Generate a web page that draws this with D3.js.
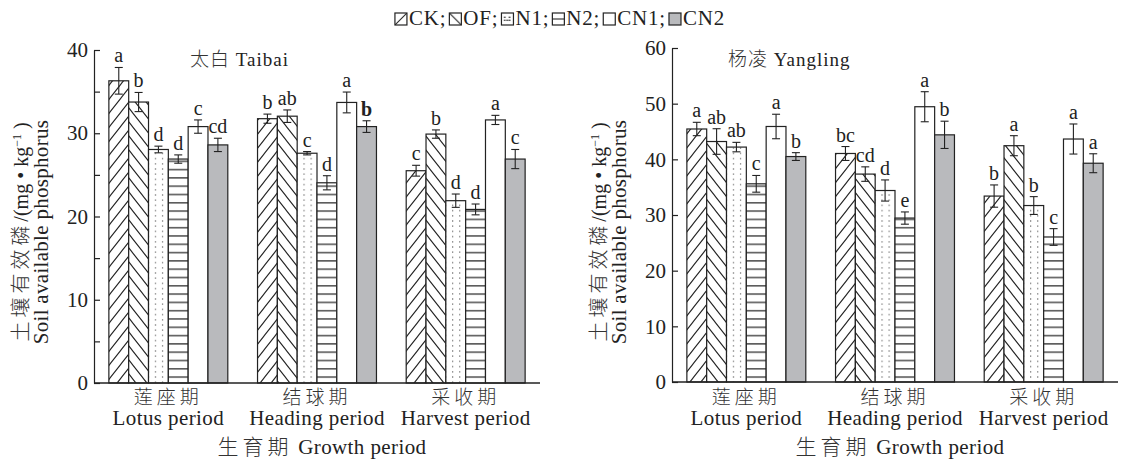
<!DOCTYPE html>
<html>
<head>
<meta charset="utf-8">
<script src="https://cdn.jsdelivr.net/npm/d3@7"></script>
<style>
body { margin: 0; background: #fff; }
svg text { font-family: "Liberation Serif", "Noto Sans CJK SC", serif; fill: #222; }
.cjk { font-weight: 300; fill: #333; }
</style>
</head>
<body>
<div id="chart"></div>
<script>
// categories
var periodsCn = ["莲座期", "结球期", "采收期"];
var periodsEn = ["Lotus period", "Heading period", "Harvest period"];
var treatments = ["CK", "OF", "N1", "N2", "CN1", "CN2"];

// Taibai: one row per treatment, one value per period
var taibaiMean = [
  [36.3, 31.75, 25.5],
  [33.75, 32.05, 29.9],
  [28.05, 27.6, 21.9],
  [26.9, 24.05, 20.85],
  [30.8, 33.7, 31.6],
  [28.6, 30.8, 26.9]
];
var taibaiErr = [
  [1.6, 0.55, 0.65],
  [1.15, 0.75, 0.5],
  [0.4, 0.2, 0.8],
  [0.5, 0.85, 0.65],
  [0.8, 1.25, 0.55],
  [0.8, 0.7, 1.15]
];
var taibaiSig = [
  ["a", "b", "c"],
  ["b", "ab", "b"],
  ["d", "c", "d"],
  ["d", "d", "d"],
  ["c", "a", "a"],
  ["cd", "b", "c"]
];
var taibaiTicks = [0, 5, 10, 15, 20, 25, 30, 35, 40];

// Yangling
var yanglingMean = [
  [45.45, 41.05, 33.4],
  [43.2, 37.35, 42.45],
  [42.2, 34.4, 31.7],
  [35.6, 29.45, 26.05],
  [45.9, 49.45, 43.65],
  [40.5, 44.4, 39.3]
];
var yanglingErr = [
  [1.2, 1.25, 2.0],
  [2.3, 1.3, 1.8],
  [0.85, 1.9, 1.6],
  [1.5, 1.1, 1.5],
  [2.2, 2.7, 2.7],
  [0.7, 2.45, 1.7]
];
var yanglingSig = [
  ["a", "bc", "b"],
  ["ab", "cd", "a"],
  ["ab", "d", "b"],
  ["c", "e", "c"],
  ["a", "a", "a"],
  ["b", "b", "a"]
];
var yanglingTicks = [0, 10, 20, 30, 40, 50, 60];

var svg = d3.select("#chart")
  .append("svg")
    .attr("width", 1131)
    .attr("height", 461);

var defs = svg.append("defs");
var ink = "#222";
var grey = "#b9babd";

// hatch patterns for one panel (N1 dots aligned to the bar grid)
function makePatterns(prefix, n1x, step) {
  var ck = defs.append("pattern").attr("id", prefix + "CK")
    .attr("patternUnits", "userSpaceOnUse").attr("width", 11).attr("height", 14);
  ck.append("rect").attr("width", 11).attr("height", 14).attr("fill", "#fff");
  ck.append("path").attr("d", "M0,14L11,0M-1,1.27L1,-1.27M10,15.27L12,12.73")
    .attr("stroke", ink).attr("stroke-width", 1.1).attr("fill", "none");

  var of = defs.append("pattern").attr("id", prefix + "OF")
    .attr("patternUnits", "userSpaceOnUse").attr("width", 11).attr("height", 14);
  of.append("rect").attr("width", 11).attr("height", 14).attr("fill", "#fff");
  of.append("path").attr("d", "M0,0L11,14M-1,12.73L1,15.27M10,-1.27L12,1.27")
    .attr("stroke", ink).attr("stroke-width", 1.1).attr("fill", "none");

  var tw = step / 21;
  var n1 = defs.append("pattern").attr("id", prefix + "N1")
    .attr("patternUnits", "userSpaceOnUse").attr("x", n1x).attr("y", 0)
    .attr("width", tw).attr("height", 5.2);
  n1.append("rect").attr("width", tw).attr("height", 5.2).attr("fill", "#fff");
  n1.append("rect").attr("x", 0).attr("y", 2).attr("width", 1.1).attr("height", 1.2).attr("fill", "#555");

  var n2 = defs.append("pattern").attr("id", prefix + "N2")
    .attr("patternUnits", "userSpaceOnUse").attr("width", 10).attr("height", 8.3);
  n2.append("rect").attr("width", 10).attr("height", 8.3).attr("fill", "#fff");
  n2.append("rect").attr("x", 0).attr("y", 3).attr("width", 10).attr("height", 1.2).attr("fill", ink);
}

function fillFor(prefix, t) {
  if (t == "CN1") return "#fff";
  if (t == "CN2") return grey;
  return "url(#" + prefix + t + ")";
}

function drawPanel(o) {
  var x0 = d3.scaleBand()
    .domain(periodsCn)
    .range([o.left, o.right])
    .paddingInner(0.2)
    .paddingOuter(0.1);
  var x1 = d3.scaleBand()
    .domain(treatments)
    .range([0, x0.bandwidth()]);
  var y = d3.scaleLinear()
    .domain([0, o.max])
    .range([o.bottom, o.top]);

  makePatterns(o.id, x0(periodsCn[0]) + x1("N1") + 6.3, x0.step());

  var rows = [];
  periodsCn.forEach(function (p, i) {
    treatments.forEach(function (t, j) {
      rows.push({ p: p, t: t, v: o.mean[j][i], e: o.err[j][i], s: o.sig[j][i] });
    });
  });

  // bars
  var g = svg.append("g");
  g.selectAll("rect.bar")
    .data(rows)
    .enter()
    .append("rect")
      .attr("class", "bar")
      .attr("x", function (d) { return x0(d.p) + x1(d.t); })
      .attr("y", function (d) { return y(d.v); })
      .attr("width", x1.bandwidth())
      .attr("height", function (d) { return y(0) - y(d.v); })
      .attr("fill", function (d) { return fillFor(o.id, d.t); })
      .attr("stroke", ink)
      .attr("stroke-width", 1.2);

  // error bars
  var eb = g.selectAll("g.err")
    .data(rows)
    .enter()
    .append("g")
      .attr("class", "err")
      .attr("transform", function (d) { return "translate(" + (x0(d.p) + x1(d.t) + x1.bandwidth() / 2) + ",0)"; });
  eb.append("line")
    .attr("y1", function (d) { return y(d.v - d.e); })
    .attr("y2", function (d) { return y(d.v + d.e); })
    .attr("stroke", ink).attr("stroke-width", 1.1);
  eb.append("line")
    .attr("x1", -4).attr("x2", 4)
    .attr("y1", function (d) { return y(d.v + d.e); })
    .attr("y2", function (d) { return y(d.v + d.e); })
    .attr("stroke", ink).attr("stroke-width", 1.1);
  eb.append("line")
    .attr("x1", -4).attr("x2", 4)
    .attr("y1", function (d) { return y(d.v - d.e); })
    .attr("y2", function (d) { return y(d.v - d.e); })
    .attr("stroke", ink).attr("stroke-width", 1.1);
  eb.append("text")
    .attr("y", function (d) { return y(d.v + d.e) - 5; })
    .attr("text-anchor", "middle")
    .style("font-size", "20px")
    .style("font-weight", function (d) { return (o.id == "tb" && d.p == periodsCn[1] && d.t == "CN2") ? "bold" : "normal"; })
    .text(function (d) { return d.s; });

  // y axis, ticks pointing inward
  var ya = svg.append("g")
    .attr("transform", "translate(" + o.left + ",0)")
    .call(d3.axisLeft(y)
      .tickValues(o.ticks)
      .tickSize(-6)
      .tickSizeOuter(0)
      .tickPadding(6)
      .tickFormat(function (d) { return d % 10 == 0 ? d : ""; }));
  ya.selectAll("path, line").attr("stroke", ink).attr("stroke-width", 1.2);
  ya.selectAll("text").style("font-size", "21px").style("font-family", "Liberation Serif").attr("fill", ink);

  // baseline
  svg.append("line")
    .attr("x1", o.left).attr("x2", o.right)
    .attr("y1", y(0)).attr("y2", y(0))
    .attr("stroke", ink).attr("stroke-width", 1.4);

  // category labels
  var cat = svg.append("g").selectAll("g")
    .data(periodsCn)
    .enter()
    .append("g")
      .attr("transform", function (d) { return "translate(" + (x0(d) + x0.bandwidth() / 2) + ",0)"; });
  cat.append("text")
    .attr("class", "cjk")
    .attr("y", 404)
    .attr("text-anchor", "middle")
    .style("font-size", "19px")
    .style("letter-spacing", "4px")
    .text(function (d) { return d; });
  cat.append("text")
    .attr("y", 425)
    .attr("text-anchor", "middle")
    .style("font-size", "21px")
    .style("letter-spacing", "0.4px")
    .text(function (d, i) { return periodsEn[i]; });

  svg.append("text")
    .attr("x", (o.left + o.right) / 2 + 5)
    .attr("y", 454)
    .attr("text-anchor", "middle")
    .style("font-size", "21px")
    .style("letter-spacing", "0.4px")
    .html('<tspan class="cjk" style="letter-spacing:4px">生育期</tspan> Growth period');

  // panel title
  svg.append("text")
    .attr("x", o.titleX)
    .attr("y", 66)
    .style("font-size", "19px")
    .style("letter-spacing", "1px")
    .html('<tspan class="cjk">' + o.titleCn + '</tspan> ' + o.titleEn);

  // y label, two lines
  var yl = svg.append("text")
    .attr("transform", "translate(" + (o.left - 73) + "," + o.labelY + ") rotate(-90)")
    .attr("text-anchor", "middle")
    .attr("dy", "0.35em")
    .style("font-size", "20px");
  yl.append("tspan").attr("class", "cjk").style("letter-spacing", "4px").text("土壤有效磷");
  yl.append("tspan").text("/(mg • kg");
  yl.append("tspan").attr("dy", -7).style("font-size", "12px").text("−1");
  yl.append("tspan").attr("dy", 7).text(" )");
  svg.append("text")
    .attr("transform", "translate(" + (o.left - 53) + "," + o.labelY + ") rotate(-90)")
    .attr("text-anchor", "middle")
    .attr("dy", "0.35em")
    .style("font-size", "21px")
    .style("letter-spacing", "0.3px")
    .text("Soil available phosphorus");
}

drawPanel({
  id: "tb", mean: taibaiMean, err: taibaiErr, sig: taibaiSig, ticks: taibaiTicks, max: 40,
  left: 94, right: 540, top: 50, bottom: 383, titleCn: "太白", titleEn: "Taibai", titleX: 190, labelY: 232
});
drawPanel({
  id: "yl", mean: yanglingMean, err: yanglingErr, sig: yanglingSig, ticks: yanglingTicks, max: 60,
  left: 672, right: 1118, top: 48, bottom: 382, titleCn: "杨凌", titleEn: "Yangling", titleX: 728, labelY: 232
});

// legend across the top
var lg = defs.append("pattern").attr("id", "lgCK")
  .attr("patternContentUnits", "objectBoundingBox").attr("width", 1).attr("height", 1);
lg.append("path").attr("d", "M0,1L1,0").attr("stroke", ink).attr("stroke-width", 0.09);
lg = defs.append("pattern").attr("id", "lgOF")
  .attr("patternContentUnits", "objectBoundingBox").attr("width", 1).attr("height", 1);
lg.append("path").attr("d", "M0,0L1,1").attr("stroke", ink).attr("stroke-width", 0.09);
lg = defs.append("pattern").attr("id", "lgN1")
  .attr("patternContentUnits", "objectBoundingBox").attr("width", 1).attr("height", 1);
[[0.22, 0.3], [0.62, 0.3], [0.22, 0.55], [0.42, 0.55], [0.62, 0.55]].forEach(function (p) {
  lg.append("rect").attr("x", p[0]).attr("y", p[1]).attr("width", 0.12).attr("height", 0.12).attr("fill", ink);
});
lg = defs.append("pattern").attr("id", "lgN2")
  .attr("patternContentUnits", "objectBoundingBox").attr("width", 1).attr("height", 1);
lg.append("path").attr("d", "M0,0.5L1,0.5").attr("stroke", ink).attr("stroke-width", 0.09);

var legend = svg.append("g");
var items = legend.selectAll("g")
  .data(treatments)
  .enter()
  .append("g");
items.append("rect")
  .attr("y", -12)
  .attr("width", 12)
  .attr("height", 12)
  .attr("fill", function (d) {
    if (d == "CN1") return "#fff";
    if (d == "CN2") return grey;
    return "url(#lg" + d + ")";
  })
  .attr("stroke", ink)
  .attr("stroke-width", 1.2);
items.append("text")
  .attr("x", 14)
  .style("font-size", "21px")
  .style("letter-spacing", "0.8px")
  .text(function (d, i) { return d + (i < treatments.length - 1 ? ";" : ""); });

var pos = 0;
items.each(function () {
  var w = 14 + d3.select(this).select("text").node().getComputedTextLength();
  d3.select(this).attr("transform", "translate(" + pos + ",0)");
  pos += w + 3;
});
legend.attr("transform", "translate(" + (560 - (pos - 3) / 2) + ",25)");
</script>
</body>
</html>
